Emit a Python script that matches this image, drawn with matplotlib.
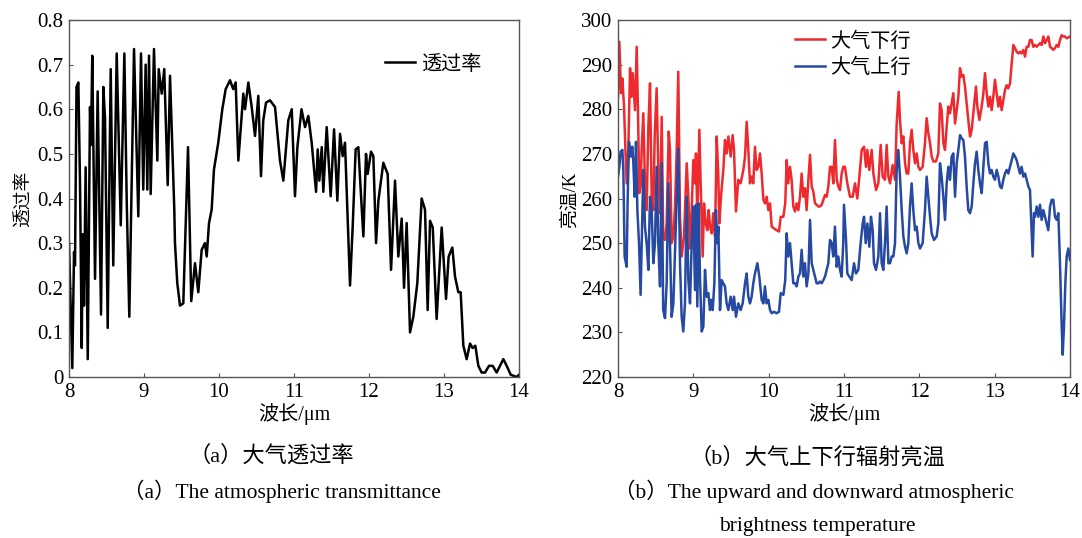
import matplotlib
matplotlib.use("Agg")
import matplotlib.pyplot as plt

plt.rcParams['font.family'] = ['Liberation Serif', 'Noto Sans CJK SC']
plt.rcParams['axes.unicode_minus'] = False

# ---------------- (a) atmospheric transmittance ----------------
wl_trans = [8.00, 8.044, 8.067, 8.08, 8.10, 8.125, 8.147, 8.17, 8.182, 8.20, 8.222, 8.25,
            8.28, 8.293, 8.31, 8.347, 8.382, 8.427, 8.458, 8.48, 8.516, 8.556, 8.59, 8.636,
            8.69, 8.738, 8.77, 8.804, 8.867, 8.924, 8.96, 8.99, 9.022, 9.044, 9.067, 9.089,
            9.133, 9.178, 9.196, 9.236, 9.27, 9.316, 9.347, 9.404, 9.413, 9.444, 9.48, 9.524,
            9.587, 9.63, 9.68, 9.724, 9.769, 9.813, 9.836, 9.867, 9.902, 9.933, 9.99, 10.044,
            10.089, 10.147, 10.19, 10.222, 10.258, 10.289, 10.324, 10.347, 10.391, 10.436,
            10.48, 10.524, 10.56, 10.59, 10.627, 10.68, 10.747, 10.813, 10.858, 10.924, 10.97,
            11.013, 11.045, 11.10, 11.147, 11.191, 11.236, 11.267, 11.294, 11.316, 11.338,
            11.37, 11.391, 11.436, 11.489, 11.534, 11.578, 11.614, 11.649, 11.68, 11.711,
            11.747, 11.782, 11.822, 11.858, 11.894, 11.925, 11.96, 11.982, 12.027, 12.058,
            12.094, 12.125, 12.191, 12.249, 12.294, 12.347, 12.391, 12.436, 12.467, 12.502,
            12.547, 12.591, 12.644, 12.702, 12.747, 12.782, 12.814, 12.85, 12.902, 12.969,
            13.027, 13.062, 13.111, 13.147, 13.191, 13.222, 13.258, 13.302, 13.347, 13.382,
            13.418, 13.458, 13.502, 13.547, 13.60, 13.649, 13.702, 13.791, 13.836, 13.89,
            13.97, 14.0]
transmittance = [0.30, 0.02, 0.28, 0.25, 0.65, 0.66, 0.43, 0.065, 0.32, 0.16, 0.47, 0.04,
                 0.605, 0.52, 0.72, 0.22, 0.64, 0.14, 0.65, 0.58, 0.11, 0.69, 0.25, 0.725,
                 0.34, 0.725, 0.39, 0.135, 0.735, 0.36, 0.725, 0.42, 0.70, 0.42, 0.72, 0.41,
                 0.735, 0.485, 0.69, 0.635, 0.69, 0.43, 0.675, 0.375, 0.30, 0.21, 0.16, 0.165,
                 0.515, 0.17, 0.255, 0.19, 0.285, 0.30, 0.27, 0.345, 0.375, 0.465, 0.525, 0.60,
                 0.645, 0.665, 0.645, 0.66, 0.485, 0.555, 0.635, 0.60, 0.66, 0.605,
                 0.54, 0.63, 0.45, 0.575, 0.615, 0.62, 0.605, 0.485, 0.44, 0.575, 0.60,
                 0.405, 0.515, 0.60, 0.56, 0.585, 0.525, 0.465, 0.415, 0.51, 0.44,
                 0.515, 0.415, 0.56, 0.405, 0.555, 0.395, 0.545, 0.495, 0.525, 0.375,
                 0.205, 0.335, 0.51, 0.515, 0.405, 0.315, 0.50, 0.455, 0.505, 0.495,
                 0.30, 0.395, 0.48, 0.455, 0.24, 0.44, 0.27, 0.355, 0.20, 0.345,
                 0.10, 0.135, 0.21, 0.40, 0.375, 0.15, 0.35, 0.335, 0.13, 0.335,
                 0.175, 0.27, 0.29, 0.225, 0.19, 0.19, 0.07, 0.04, 0.075, 0.065,
                 0.07, 0.025, 0.01, 0.01, 0.025, 0.025, 0.01, 0.04, 0.025, 0.005,
                 0.0, 0.005]

# ---------------- (b) downward / upward brightness temperature ----------------
wl_down = [8.00, 8.018, 8.04, 8.058, 8.08, 8.10, 8.115, 8.137, 8.16, 8.18, 8.195, 8.212,
           8.226, 8.248, 8.265, 8.283, 8.30, 8.314, 8.336, 8.358, 8.38, 8.403, 8.425, 8.447,
           8.469, 8.487, 8.513, 8.535, 8.558, 8.58, 8.60, 8.624, 8.646, 8.673, 8.69, 8.712,
           8.735, 8.757, 8.779, 8.80, 8.823, 8.845, 8.876, 8.912, 8.934, 8.956, 8.978, 9.00,
           9.022, 9.035, 9.053, 9.08, 9.097, 9.124, 9.142, 9.164, 9.186, 9.204, 9.221, 9.243,
           9.265, 9.288, 9.31, 9.332, 9.345, 9.367, 9.398, 9.42, 9.442, 9.465, 9.496, 9.522,
           9.54, 9.566, 9.597, 9.628, 9.664, 9.686, 9.708, 9.73, 9.752, 9.774, 9.796, 9.818,
           9.84, 9.863, 9.885, 9.907, 9.93, 9.951, 9.973, 9.996, 10.018, 10.04, 10.071,
           10.106, 10.137, 10.16, 10.195, 10.22, 10.239, 10.26, 10.283, 10.305, 10.327,
           10.35, 10.372, 10.394, 10.416, 10.438, 10.46, 10.482, 10.504, 10.527, 10.549,
           10.571, 10.593, 10.615, 10.637, 10.66, 10.68, 10.704, 10.726, 10.748, 10.77,
           10.792, 10.814, 10.836, 10.858, 10.88, 10.903, 10.925, 10.947, 10.969, 10.99,
           11.013, 11.044, 11.08, 11.115, 11.146, 11.177, 11.204, 11.235, 11.266, 11.292,
           11.31, 11.336, 11.367, 11.39, 11.425, 11.456, 11.487, 11.513, 11.544, 11.566,
           11.589, 11.611, 11.646, 11.677, 11.699, 11.726, 11.743, 11.766, 11.788, 11.81,
           11.832, 11.854, 11.876, 11.898, 11.92, 11.943, 11.965, 11.987, 12.009, 12.044,
           12.075, 12.097, 12.12, 12.142, 12.164, 12.186, 12.221, 12.252, 12.274, 12.296,
           12.319, 12.341, 12.363, 12.385, 12.407, 12.429, 12.451, 12.474, 12.496, 12.518,
           12.54, 12.562, 12.584, 12.606, 12.628, 12.65, 12.673, 12.695, 12.717, 12.739,
           12.752, 12.77, 12.797, 12.828, 12.85, 12.872, 12.894, 12.916, 12.938, 12.96,
           12.982, 13.004, 13.027, 13.049, 13.071, 13.093, 13.115, 13.137, 13.159, 13.181,
           13.204, 13.226, 13.248, 13.27, 13.292, 13.314, 13.336, 13.358, 13.381, 13.403,
           13.425, 13.447, 13.469, 13.491, 13.513, 13.535, 13.558, 13.58, 13.602, 13.624,
           13.646, 13.668, 13.69, 13.712, 13.735, 13.757, 13.779, 13.801, 13.823, 13.845,
           13.867, 13.89, 13.912, 13.934, 13.956, 14.0]
bt_down = [282.8, 295.1, 283.6, 286.9, 280.6, 270.1, 263.4, 270.9, 289.2, 282.8, 288.1, 283.6,
           279.8, 294.0, 279.8, 261.2, 262.7, 270.9, 279.1, 263.4, 257.4, 276.1, 285.8, 260.4,
           257.4, 273.9, 284.7, 266.4, 256.7, 278.3, 251.5, 250.7, 254.4, 275.0, 270.9, 250.0,
           251.5, 258.2, 270.9, 288.4, 255.9, 247.0, 251.5, 267.9, 260.4, 248.8, 257.4, 268.6,
           263.4, 270.1, 255.9, 275.4, 263.4, 247.0, 258.9, 254.4, 252.9, 257.4, 253.7, 252.2,
           256.7, 251.5, 273.9, 264.9, 254.4, 260.4, 266.4, 273.1, 270.1, 273.9, 269.4, 274.2,
           270.9, 257.1, 264.2, 263.4, 266.4, 269.4, 277.2, 270.9, 263.4, 264.9, 263.4, 271.6,
           266.4, 267.1, 270.1, 265.6, 259.7, 258.9, 260.4, 257.4, 258.9, 253.7, 253.3,
           252.9, 252.6, 255.9, 255.9, 258.9, 268.6, 263.4, 267.1, 264.2, 258.2,
           257.1, 258.9, 257.4, 260.4, 265.6, 260.4, 262.3, 257.4, 264.2, 269.8,
           262.7, 261.5, 258.9, 258.6, 258.2, 258.2, 258.6, 259.7, 260.8, 260.4,
           262.7, 267.1, 267.1, 263.4, 273.1, 264.2, 262.7, 261.9, 265.6, 267.1,
           267.1, 263.4, 260.4, 260.4, 263.4, 260.0, 264.9, 270.9, 271.6, 267.1,
           270.9, 266.4, 270.9, 265.6, 261.9, 263.4, 272.0, 264.9, 264.2, 272.0,
           264.9, 263.4, 267.5, 264.2, 276.8, 283.9, 277.6, 272.4, 273.9, 267.9,
           265.6, 265.6, 272.4, 275.4, 270.9, 267.9, 270.1, 267.1, 266.4, 267.1,
           272.4, 278.0, 274.6, 272.4, 269.4, 268.3, 268.3, 270.1, 281.3, 279.8,
           272.4, 270.9, 276.1, 280.6, 279.1, 281.3, 283.6, 276.8, 279.8, 282.8,
           289.2, 287.3, 287.7, 285.1, 281.3, 277.6, 273.9, 275.4, 279.1, 282.8,
           285.1, 280.6, 277.6, 280.6, 283.6, 288.1, 283.6, 280.6, 282.8, 279.8,
           282.8, 286.6, 283.6, 280.6, 282.8, 279.8, 282.1, 284.3, 285.4, 284.7,
           285.8, 290.3, 294.4, 293.7, 292.9, 292.5, 292.9, 292.5, 293.3, 291.8,
           294.0, 294.0, 295.5, 295.5, 294.0, 294.4, 294.0, 294.4, 294.8, 294.4,
           296.3, 294.8, 295.5, 296.3, 294.0, 293.7, 293.3, 293.7, 294.4, 294.0,
           295.5, 296.6, 296.3, 296.3, 295.9, 296.3]

wl_up = [8.00, 8.018, 8.035, 8.058, 8.071, 8.088, 8.115, 8.128, 8.146, 8.168, 8.19, 8.204,
         8.221, 8.239, 8.257, 8.279, 8.30, 8.319, 8.336, 8.358, 8.38, 8.403, 8.425, 8.447,
         8.469, 8.491, 8.513, 8.535, 8.558, 8.58, 8.60, 8.624, 8.646, 8.668, 8.69, 8.712,
         8.735, 8.757, 8.779, 8.80, 8.823, 8.845, 8.867, 8.889, 8.912, 8.934, 8.956, 8.978,
         9.00, 9.022, 9.035, 9.053, 9.071, 9.088, 9.111, 9.133, 9.155, 9.177, 9.199, 9.221,
         9.235, 9.257, 9.279, 9.30, 9.319, 9.332, 9.354, 9.376, 9.398, 9.42, 9.442, 9.465,
         9.496, 9.522, 9.54, 9.566, 9.597, 9.628, 9.655, 9.686, 9.708, 9.73, 9.752, 9.774,
         9.796, 9.818, 9.85, 9.876, 9.907, 9.93, 9.951, 9.973, 9.996, 10.018, 10.04, 10.071,
         10.106, 10.137, 10.16, 10.195, 10.22, 10.239, 10.26, 10.283, 10.305, 10.327, 10.35,
         10.372, 10.394, 10.416, 10.438, 10.46, 10.482, 10.504, 10.527, 10.549, 10.571,
         10.593, 10.615, 10.637, 10.66, 10.68, 10.704, 10.726, 10.748, 10.77, 10.792,
         10.814, 10.836, 10.858, 10.88, 10.903, 10.925, 10.947, 10.969, 10.99,
         11.0, 11.027, 11.044, 11.071, 11.102, 11.133, 11.159, 11.19, 11.221, 11.248,
         11.266, 11.288, 11.31, 11.336, 11.358, 11.381, 11.398, 11.425, 11.456, 11.478,
         11.5, 11.522, 11.544, 11.566, 11.589, 11.611, 11.633, 11.655, 11.677, 11.699,
         11.721, 11.743, 11.766, 11.788, 11.81, 11.832, 11.854, 11.876, 11.898, 11.92,
         11.943, 11.965, 11.987, 12.009, 12.044, 12.075, 12.097, 12.12, 12.142, 12.164,
         12.195, 12.23, 12.252, 12.274, 12.296, 12.319, 12.341, 12.363, 12.385, 12.407,
         12.429, 12.451, 12.474, 12.496, 12.518, 12.54, 12.562, 12.584, 12.606, 12.628,
         12.65, 12.673, 12.695, 12.717, 12.739, 12.761, 12.783, 12.805, 12.828, 12.85,
         12.872, 12.894, 12.916, 12.938, 12.96, 12.982, 13.004, 13.027, 13.049, 13.071,
         13.093, 13.115, 13.137, 13.159, 13.181, 13.204, 13.226, 13.248, 13.27, 13.292,
         13.314, 13.336, 13.358, 13.381, 13.403, 13.425, 13.447, 13.469, 13.491, 13.504,
         13.522, 13.535, 13.558, 13.58, 13.602, 13.624, 13.646, 13.668, 13.69, 13.712,
         13.735, 13.757, 13.779, 13.801, 13.823, 13.845, 13.867, 13.89, 13.903, 13.92,
         13.938, 13.956, 13.978, 14.0]
bt_up = [264.9, 267.1, 270.5, 270.9, 266.4, 247.0, 244.7, 259.7, 272.7, 269.4, 271.6, 267.9,
         260.4, 272.7, 257.4, 250.0, 238.4, 253.7, 266.4, 253.7, 250.0, 244.0, 260.4, 257.4,
         245.5, 250.0, 267.1, 250.0, 240.3, 267.9, 235.0, 233.2, 241.0, 263.4, 250.0, 233.5,
         236.5, 248.5, 260.4, 271.2, 245.5, 233.5, 230.2, 236.5, 260.4, 241.7, 236.5, 250.0,
         258.2, 239.5, 258.6, 235.8, 258.9, 242.5, 230.2, 231.3, 244.0, 238.0, 238.8, 235.0,
         237.3, 235.0, 241.0, 257.4, 250.0, 253.7, 235.0, 241.7, 241.0, 240.3, 236.5, 235.0,
         238.0, 235.0, 238.0, 233.5, 236.5, 235.0, 236.5, 241.0, 243.2, 238.0, 236.5, 238.0,
         241.0, 243.2, 245.5, 242.5, 237.3, 236.5, 240.3, 236.5, 237.3, 235.0, 234.3, 234.6,
         234.3, 234.6, 238.8, 238.4, 241.7, 252.2, 247.0, 250.0, 245.5, 241.0, 241.0,
         240.3, 242.5, 243.2, 248.5, 242.5, 245.5, 240.3, 243.2, 255.2, 245.5,
         244.0, 242.5, 241.0, 241.0, 241.4, 241.0, 241.7, 242.5, 244.0, 245.5,
         250.7, 250.0, 247.0, 253.7, 244.7, 247.0, 244.0, 242.5, 250.0,
         258.6, 250.7, 243.2, 242.5, 241.7, 245.5, 243.2, 244.0, 250.0, 254.4,
         255.9, 250.0, 254.4, 249.2, 255.9, 252.9, 245.5, 244.0, 247.0, 256.7,
         245.5, 244.0, 250.0, 258.2, 245.5, 245.5, 247.0, 247.0, 250.0, 266.4,
         270.9, 264.9, 257.4, 251.5, 249.2, 247.7, 250.0, 258.2, 263.4, 257.4,
         252.9, 253.7, 250.0, 248.8, 250.0, 257.4, 264.9, 260.4, 255.9, 252.2,
         250.7, 251.5, 254.4, 267.9, 264.9, 260.4, 255.2, 263.4, 267.1, 264.2,
         269.4, 270.1, 260.4, 267.9, 270.9, 274.2, 273.5, 273.1, 269.4, 262.7,
         257.4, 256.7, 258.2, 263.4, 267.9, 270.5, 266.4, 263.4, 261.2, 267.1,
         272.4, 272.7, 267.9, 265.6, 266.4, 264.9, 264.2, 266.4, 264.9, 262.7,
         262.3, 264.2, 265.6, 266.4, 265.6, 267.1, 268.6, 270.1, 269.4, 268.6,
         267.1, 265.6, 267.1, 264.9, 265.6, 264.2, 262.7, 261.9, 252.9, 247.0,
         256.7, 255.9, 258.2, 255.9, 258.6, 255.2, 257.4, 255.9, 254.4, 252.9,
         258.2, 259.7, 259.7, 255.9, 255.2, 256.7, 245.5, 231.3, 225.0, 231.3,
         241.0, 247.0, 248.8, 246.2]

x_ticks = [8, 9, 10, 11, 12, 13, 14]
trans_ticks = [0, 0.1, 0.2, 0.3, 0.4, 0.5, 0.6, 0.7, 0.8]
trans_labels = ['0', '0.1', '0.2', '0.3', '0.4', '0.5', '0.6', '0.7', '0.8']
temp_ticks = [220, 230, 240, 250, 260, 270, 280, 290, 300]

RED = '#EE2A2E'
BLUE = '#2649A2'
SPINE = '#555555'
TICK_FS = 15
XLABEL_FS = 14.5
YLABEL_FS = 13.5

fig = plt.figure(figsize=(10.82, 5.38), dpi=100)
W, H = 1082, 538


def add_axes(x0, x1, y0, y1):
    return fig.add_axes([x0 / W, 1 - y1 / H, (x1 - x0) / W, (y1 - y0) / H])


def style(ax):
    for s in ax.spines.values():
        s.set_color(SPINE)
        s.set_linewidth(1.0)
    ax.tick_params(direction='in', length=3, width=0.8, color=SPINE,
                   labelsize=TICK_FS, pad=4, top=False, right=False)
    ax.set_xlim(8, 14)
    ax.set_xticks(x_ticks)
    ax.set_xlabel('波长/μm', fontsize=XLABEL_FS, labelpad=1)


ax1 = add_axes(69, 519, 20, 377)
ax1.plot(wl_trans, transmittance, color='black', lw=1.8, label='透过率')
style(ax1)
ax1.set_ylim(0, 0.8)
ax1.set_yticks(trans_ticks)
ax1.set_yticklabels(trans_labels)
ax1.set_ylabel('透过率', fontsize=YLABEL_FS, labelpad=3)
ax1.legend(loc='center left', bbox_to_anchor=(0.702, 0.874), frameon=False,
           fontsize=14.5, handlelength=1.5, handletextpad=0.3,
           borderpad=0, borderaxespad=0)

ax2 = add_axes(618, 1070, 20, 377)
ax2.plot(wl_down, bt_down, color=RED, lw=1.8, label='大气下行')
ax2.plot(wl_up, bt_up, color=BLUE, lw=1.8, label='大气上行')
style(ax2)
ax2.set_ylim(220, 300)
ax2.set_yticks(temp_ticks)
ax2.set_ylabel('亮温/K', fontsize=YLABEL_FS, labelpad=2)
ax2.legend(loc='center left', bbox_to_anchor=(0.392, 0.902), frameon=False,
           fontsize=14.5, handlelength=1.5, handletextpad=0.25, labelspacing=0.35,
           borderpad=0, borderaxespad=0)

# sub-figure captions
fig.text(271 / W, 1 - 456 / H, '（a）大气透过率', ha='center', va='center', fontsize=16)
fig.text(282 / W, 1 - 491 / H, '（a）The atmospheric transmittance', ha='center', va='center',
         fontsize=15.5)
fig.text(817 / W, 1 - 458 / H, '（b）大气上下行辐射亮温', ha='center', va='center', fontsize=16)
fig.text(814 / W, 1 - 491 / H, '（b）The upward and downward atmospheric', ha='center',
         va='center', fontsize=15.5)
fig.text(817 / W, 1 - 526 / H, 'brightness temperature', ha='center', va='center',
         fontsize=15.5)

fig.savefig('out.png', dpi=100, facecolor='white')
